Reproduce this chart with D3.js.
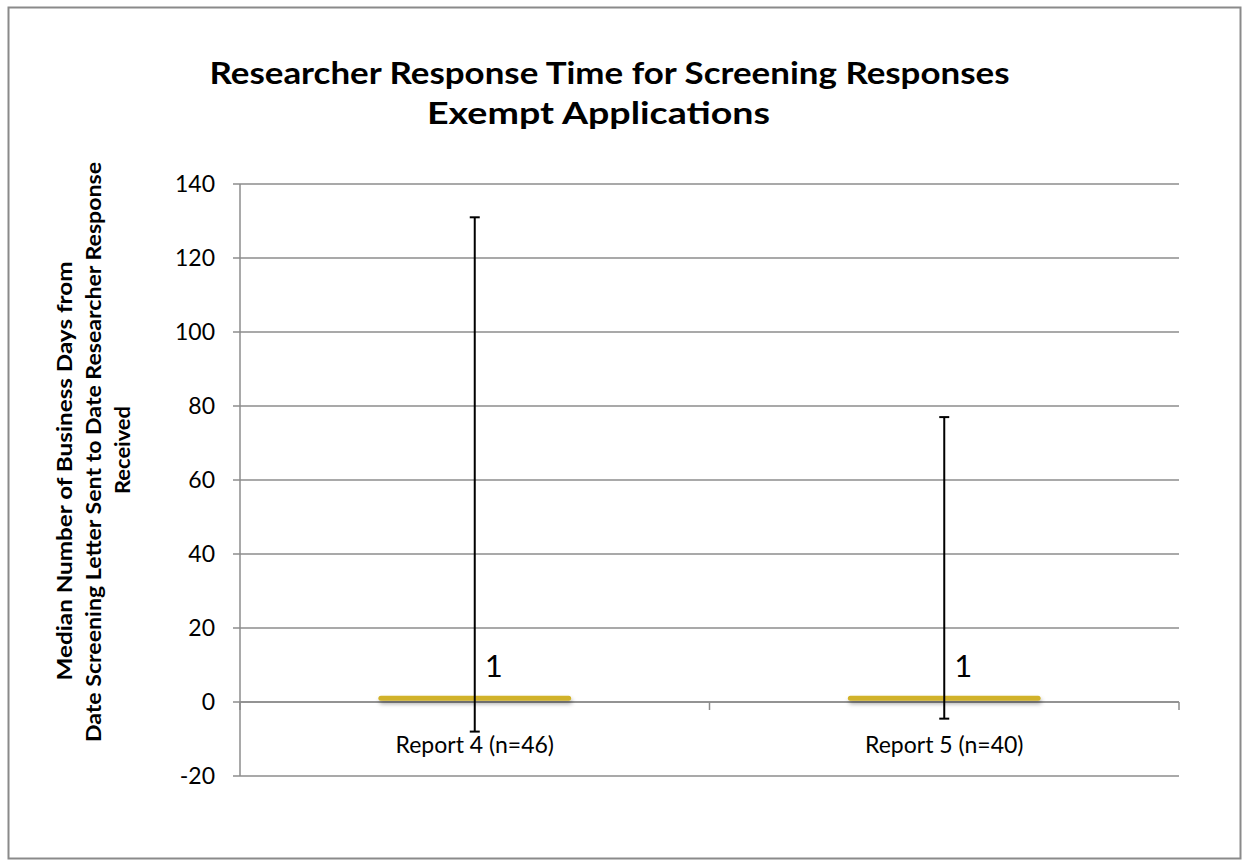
<!DOCTYPE html>
<html>
<head>
<meta charset="utf-8">
<script src="https://cdn.jsdelivr.net/npm/d3@7"></script>
<style>
  body { margin: 0; background: #fff; }
  text { font-family: Lato, "Open Sans", sans-serif; fill: #000; }
</style>
</head>
<body>
<div id="chartContainer"></div>
<script>
const width = 1249;
const height = 867;
const marginTop = 184;
const marginRight = 70;
const marginBottom = 91;
const marginLeft = 240;

// data
const categories = ["Report 4 (n=46)", "Report 5 (n=40)"];
const medians = [1, 1];
const lowEnds = [-8, -4.5];
const highEnds = [131, 77];
const medianLabels = ["1", "1"];
const yTicks = [-20, 0, 20, 40, 60, 80, 100, 120, 140];
const titleLines = ["Researcher Response Time for Screening Responses", "Exempt Applications"];
const yLabelLines = ["Median Number of Business  Days  from", "Date Screening Letter Sent to Date Researcher Response", "Received"];

const data = categories.map((c, i) => ({
    cat: c,
    median: medians[i],
    low: lowEnds[i],
    high: highEnds[i],
    label: medianLabels[i]
}));

const svg = d3.select("#chartContainer")
    .append("svg")
    .attr("width", width)
    .attr("height", height);

const defs = svg.append("defs");
const shadow = defs.append("filter")
    .attr("id", "shadow")
    .attr("filterUnits", "userSpaceOnUse")
    .attr("x", 0).attr("y", 0)
    .attr("width", width).attr("height", height);
shadow.append("feDropShadow")
    .attr("dx", 1).attr("dy", 3)
    .attr("stdDeviation", 2)
    .attr("flood-color", "#000")
    .attr("flood-opacity", 0.35);

// outer frame
svg.append("rect")
    .attr("x", 8.5).attr("y", 7.5)
    .attr("width", 1232).attr("height", 851)
    .attr("fill", "none")
    .attr("stroke", "#8a8a8a")
    .attr("stroke-width", 2);

const xScale = d3.scaleBand()
    .domain(categories)
    .range([marginLeft, width - marginRight]);

const yScale = d3.scaleLinear()
    .domain([-20, 140])
    .range([height - marginBottom, marginTop]);

// gridlines
svg.append("g")
    .selectAll("line")
    .data(yTicks)
    .join("line")
    .attr("x1", marginLeft - 7)
    .attr("x2", width - marginRight)
    .attr("y1", d => yScale(d))
    .attr("y2", d => yScale(d))
    .attr("stroke", "#8c8c8c")
    .attr("stroke-width", 1.5);

// y axis line
svg.append("line")
    .attr("x1", marginLeft).attr("x2", marginLeft)
    .attr("y1", yScale(140)).attr("y2", yScale(-20))
    .attr("stroke", "#8c8c8c")
    .attr("stroke-width", 1.5);

// y tick labels
svg.append("g")
    .selectAll("text")
    .data(yTicks)
    .join("text")
    .attr("x", marginLeft - 25)
    .attr("y", d => yScale(d))
    .attr("dy", "0.36em")
    .style("text-anchor", "end")
    .style("font-size", "23px")
    .text(d => d);

// x axis at zero with ticks at band edges
svg.append("line")
    .attr("x1", marginLeft).attr("x2", width - marginRight)
    .attr("y1", yScale(0)).attr("y2", yScale(0))
    .attr("stroke", "#8c8c8c")
    .attr("stroke-width", 1.5);

const edges = categories.map(c => xScale(c)).concat([width - marginRight]);
svg.append("g")
    .selectAll("line")
    .data(edges)
    .join("line")
    .attr("x1", d => d).attr("x2", d => d)
    .attr("y1", yScale(0)).attr("y2", yScale(0) + 8)
    .attr("stroke", "#8c8c8c")
    .attr("stroke-width", 1.5);

svg.append("g")
    .selectAll("text")
    .data(categories)
    .join("text")
    .attr("x", d => xScale(d) + xScale.bandwidth() / 2)
    .attr("y", yScale(0) + 51)
    .style("text-anchor", "middle")
    .style("font-size", "23px")
    .text(d => d);

// median markers
const cx = d => xScale(d.cat) + xScale.bandwidth() / 2;
const halfLen = xScale.bandwidth() * 0.2;

svg.append("g")
    .selectAll("line")
    .data(data)
    .join("line")
    .attr("x1", d => cx(d) - halfLen)
    .attr("x2", d => cx(d) + halfLen)
    .attr("y1", d => yScale(d.median))
    .attr("y2", d => yScale(d.median))
    .attr("stroke", "#d1b22b")
    .attr("stroke-width", 5)
    .attr("stroke-linecap", "round")
    .attr("filter", "url(#shadow)");

// error bars
const err = svg.append("g")
    .selectAll("g")
    .data(data)
    .join("g");

err.append("line")
    .attr("x1", cx).attr("x2", cx)
    .attr("y1", d => yScale(d.high))
    .attr("y2", d => yScale(d.low))
    .attr("stroke", "#000")
    .attr("stroke-width", 2);

err.append("line")
    .attr("x1", d => cx(d) - 5).attr("x2", d => cx(d) + 5)
    .attr("y1", d => yScale(d.high))
    .attr("y2", d => yScale(d.high))
    .attr("stroke", "#000")
    .attr("stroke-width", 2);

err.append("line")
    .attr("x1", d => cx(d) - 5).attr("x2", d => cx(d) + 5)
    .attr("y1", d => yScale(d.low))
    .attr("y2", d => yScale(d.low))
    .attr("stroke", "#000")
    .attr("stroke-width", 2);

// data labels
svg.append("g")
    .selectAll("text")
    .data(data)
    .join("text")
    .attr("x", d => cx(d) + 10)
    .attr("y", d => yScale(d.median) - 21)
    .style("font-size", "31px")
    .text(d => d.label);

// title
svg.append("text")
    .attr("x", 609.5)
    .attr("y", 84)
    .style("text-anchor", "middle")
    .style("font-size", "30px")
    .style("font-weight", "bold")
    .attr("textLength", 800)
    .attr("lengthAdjust", "spacingAndGlyphs")
    .text(titleLines[0]);

svg.append("text")
    .attr("x", 598.5)
    .attr("y", 124)
    .style("text-anchor", "middle")
    .style("font-size", "30px")
    .style("font-weight", "bold")
    .attr("textLength", 343)
    .attr("lengthAdjust", "spacingAndGlyphs")
    .text(titleLines[1]);

// y axis label (three lines)
const yLabelPos = [[72, 471, 419], [101, 452, 580], [130, 450, 88]];
yLabelLines.forEach((line, i) => {
    const p = yLabelPos[i];
    svg.append("text")
        .attr("transform", `translate(${p[0]},${p[1]}) rotate(-90)`)
        .style("text-anchor", "middle")
        .style("font-size", "21px")
        .style("font-weight", "bold")
        .attr("textLength", p[2])
        .attr("lengthAdjust", "spacingAndGlyphs")
        .text(line);
});
</script>
</body>
</html>
